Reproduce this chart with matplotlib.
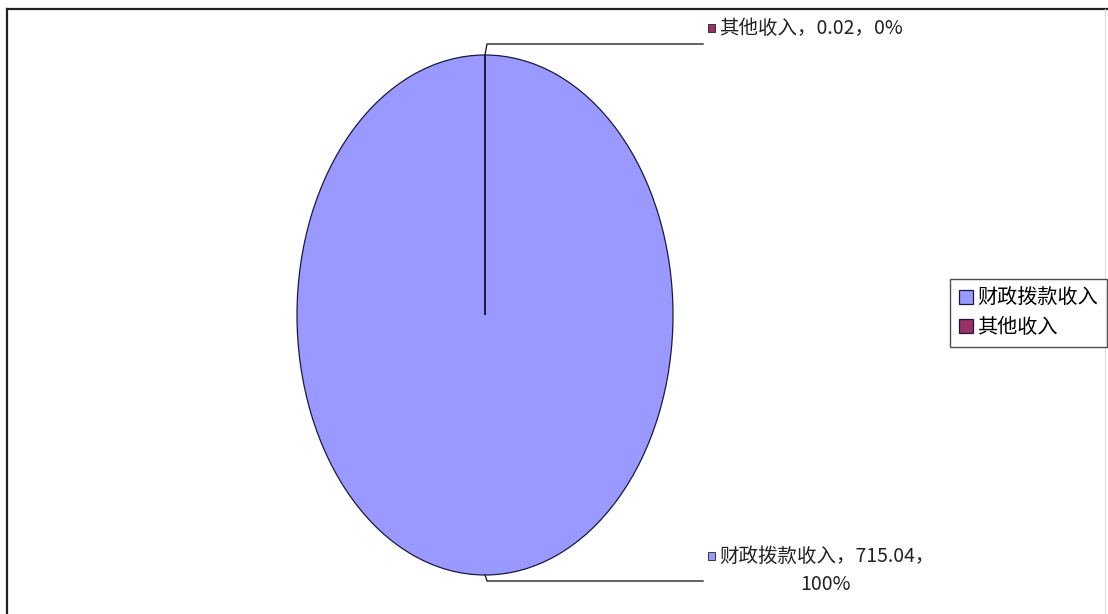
import numpy as np
import matplotlib
matplotlib.use("Agg")
import matplotlib.pyplot as plt
from matplotlib.patches import Rectangle
from matplotlib.lines import Line2D

plt.rcParams['font.family'] = ['Noto Sans CJK SC', 'DejaVu Sans']

categories = ["财政拨款收入", "其他收入"]
values = [715.04, 0.02]
colors = ["#9999FF", "#993366"]

W, H = 1108, 614
fig = plt.figure(figsize=(W / 100, H / 100), dpi=100)

# overlay axes in pixel coordinates (y down)
ov = fig.add_axes([0, 0, 1, 1], zorder=5)
ov.set_xlim(0, W)
ov.set_ylim(H, 0)
ov.axis("off")

# frame lines (top and left)
ov.add_line(Line2D([7, W], [9, 9], color="#222222", lw=1.6))
ov.add_line(Line2D([7, 7], [9, H], color="#222222", lw=1.6))
ov.add_line(Line2D([W - 3, W - 3], [9, H], color="#dddddd", lw=0.8))

# pie axes (stretched -> ellipse)
px0, py0, pw, ph = 297, 55, 376, 520
ax = fig.add_axes([px0 / W, 1 - (py0 + ph) / H, pw / W, ph / H], zorder=2)
wedges, _ = ax.pie(values, colors=colors, startangle=90, counterclock=False,
                   wedgeprops=dict(edgecolor="#1a1a40", linewidth=0.9))
ax.set_aspect("auto")
ax.set_xlim(-1, 1)
ax.set_ylim(-1, 1)
ax.axis("off")

total = sum(values)


def to_px(x, y):
    d = ax.transData.transform((x, y))
    return ov.transData.inverted().transform(d)


label_x = 703
fs = 14
for i, (w, cat, v) in enumerate(zip(wedges, categories, values)):
    theta = np.deg2rad((w.theta1 + w.theta2) / 2)
    ex, ey = to_px(np.cos(theta), np.sin(theta))
    up = np.sin(theta) > 0
    ely = ey - 11 if up else ey + 6
    ov.add_line(Line2D([ex, ex + 2, label_x], [ey, ely, ely], color="#222222", lw=1.0))
    pct = int(round(v / total * 100))
    if up:
        ty = ely - 16
        ov.add_patch(Rectangle((708, ty - 4), 7, 8, facecolor=colors[i], edgecolor="#222222", lw=0.6))
        ov.text(719, ty, f"{cat}，{v:g}，{pct}%", fontsize=fs, va="center", ha="left", color="#222222")
    else:
        ty = ely - 25
        ov.add_patch(Rectangle((708, ty - 4), 7, 8, facecolor=colors[i], edgecolor="#222222", lw=0.6))
        ov.text(719, ty, f"{cat}，{v:.2f}，", fontsize=fs, va="center", ha="left", color="#222222")
        ov.text(825, ty + 29, f"{pct}%", fontsize=fs, va="center", ha="center", color="#222222")

leg = fig.legend(wedges, categories, loc="center left",
                 bbox_to_anchor=(950 / W, 1 - 313 / H), fontsize=fs + 0.5,
                 frameon=True, fancybox=False, edgecolor="#222222",
                 handlelength=0.7, handleheight=0.7, handletextpad=0.2,
                 borderpad=0.45, labelspacing=0.4, borderaxespad=0)
leg.get_frame().set_linewidth(1.0)

fig.savefig("out.png", dpi=100)
